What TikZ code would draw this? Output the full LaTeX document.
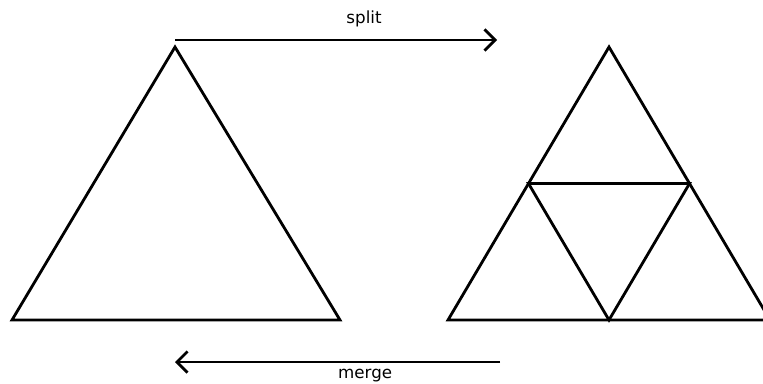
\documentclass[tikz,border=0pt]{standalone}
\usepackage{fontspec}
\setsansfont{DejaVu Sans}
\usetikzlibrary{arrows.meta,calc}

\begin{document}
\begin{tikzpicture}[
    x=0.02cm, y=-0.02cm,
    edge/.style={line width=1.6pt, line join=miter},
    arrow/.style={-{Straight Barb[length=6pt,width=12pt,line width=1.6pt]}, line width=1.6pt},
    lbl/.style={font=\sffamily\fontsize{9.5}{11}\selectfont, inner sep=1pt}
  ]
    \useasboundingbox (0,0) rectangle (763,383);
    % coarse triangle
    \coordinate (la) at (175,47);
    \coordinate (ll) at (12,320);
    \coordinate (lr) at (340,320);
    % fine triangle
    \coordinate (ra) at (609,47);
    \coordinate (rl) at (448,320);
    \coordinate (rr) at (770,320);
    \coordinate (m1) at ($(ra)!0.5!(rl)$);
    \coordinate (m2) at ($(ra)!0.5!(rr)$);
    \coordinate (m3) at ($(rl)!0.5!(rr)$);
    \coordinate (s1) at (175,40);
    \coordinate (s2) at (497,40);
    \coordinate (g1) at (500,362);
    \coordinate (g2) at (175,362);

    \draw[edge] (la) -- (ll) -- (lr) -- cycle;
    \draw[edge] (ra) -- (rl) -- (rr) -- cycle;
    \draw[edge] (m1) -- (m2) -- (m3) -- cycle;

    \draw[arrow] (s1) -- node[lbl, pos=0.587, above=5.5pt] {split} (s2);
    \draw[arrow] (g1) -- node[lbl, pos=0.415, below=2pt] {merge} (g2);
  \end{tikzpicture}
\end{document}
